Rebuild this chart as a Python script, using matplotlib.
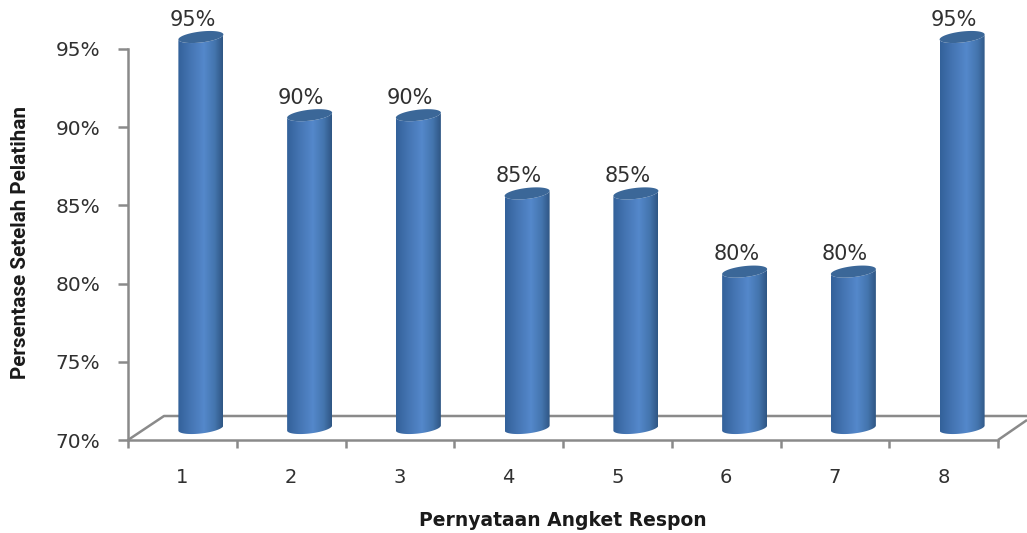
import numpy as np
import matplotlib
matplotlib.use("Agg")
import matplotlib.pyplot as plt
from matplotlib.patches import Polygon
from matplotlib.colors import LinearSegmentedColormap
from matplotlib.ticker import FuncFormatter

categories = [1, 2, 3, 4, 5, 6, 7, 8]
values = [95, 90, 90, 85, 85, 80, 80, 95]
y_ticks = [70, 75, 80, 85, 90, 95]
x_title = "Pernyataan Angket Respon"
y_title = "Persentase Setelah Pelatihan"

W, H = 1027, 533
AX_L, AX_R, AX_T, AX_B = 128, 998, 49, 440
GREY = "#8a8a8a"
TEXT = "#303030"
FONT = ["DejaVu Sans"]

fig = plt.figure(figsize=(W / 100, H / 100), dpi=100, facecolor="white")
ax = fig.add_axes([AX_L / W, 1 - AX_B / H, (AX_R - AX_L) / W, (AX_B - AX_T) / H])
ax.set_facecolor("none")

ax.set_xlim(0.5, 8.5)
ax.set_ylim(70, 95)
px_x = (AX_R - AX_L) / 8
px_y = (AX_B - AX_T) / 25

# Depth of the pseudo-3D floor, in data units
depth_x, depth_y = 36 / px_x, 24 / px_y
dx, dy = 18.5 / px_x, 12 / px_y

# Floor outline
ax.plot([0.5, 0.5 + depth_x, 8.5 + 29 / px_x], [70, 70 + depth_y, 70 + depth_y],
        color=GREY, lw=1.8, clip_on=False, zorder=1, solid_capstyle="butt")
ax.plot([8.5, 8.5 + 29 / px_x], [70, 70 + 20 / px_y],
        color=GREY, lw=1.8, clip_on=False, zorder=1, solid_capstyle="butt")

# Cylinders: horizontal gradient body clipped to the outline, darker top cap
shade = LinearSegmentedColormap.from_list(
    "cyl", [(0, "#33619a"), (0.28, "#4575b3"), (0.58, "#5488cb"),
            (0.82, "#4475ae"), (1, "#2f5684")])
gradient = np.linspace(0, 1, 128)[None, :]
half_w = 22.5 / px_x
ry = 5.5 / px_y
tilt = 2.5 / px_y
t = np.linspace(0, 2 * np.pi, 121)


def ellipse(cx, cy, tt):
    return cx + half_w * np.cos(tt), cy + ry * np.sin(tt) + tilt * np.cos(tt)


for c, v in zip(categories, values):
    cx = c + dx
    base, top = 70 + dy, v + dy
    low = np.linspace(np.pi, 2 * np.pi, 61)
    xb, yb = ellipse(cx, base, low)
    xt, yt = ellipse(cx, top, low[::-1])
    outline = Polygon(np.column_stack([np.r_[xb, xt], np.r_[yb, yt]]),
                      closed=True, transform=ax.transData, fc="none", ec="none")
    ax.add_patch(outline)
    im = ax.imshow(gradient, cmap=shade, aspect="auto", zorder=2,
                   extent=(cx - half_w, cx + half_w, 69, v + 2))
    im.set_clip_path(outline)
    im.set_clip_box(fig.bbox)
    xc, yc = ellipse(cx, top, t)
    ax.fill(xc, yc, color="#3b6798", zorder=3, clip_on=False, lw=0)
    ax.annotate(f"{v}%", (cx, top), xytext=(-6, 12.5), textcoords="offset points",
                ha="center", va="center", fontsize=15, color=TEXT, family=FONT,
                annotation_clip=False, zorder=4)

ax.set_xlim(0.5, 8.5)
ax.set_ylim(70, 95)

# Axes and ticks
for side in ("top", "right"):
    ax.spines[side].set_visible(False)
for side in ("left", "bottom"):
    ax.spines[side].set_color(GREY)
    ax.spines[side].set_linewidth(1.8)
    ax.spines[side].set_zorder(5)

ax.set_yticks(y_ticks)
ax.yaxis.set_major_formatter(FuncFormatter(lambda val, _: f"{val:.0f}%"))
ax.set_xticks(categories)
ax.set_xticks(np.arange(0.5, 9), minor=True)
ax.tick_params(axis="y", length=7.5, width=1.8, color=GREY, labelsize=14.5,
               labelcolor=TEXT, pad=12.5)
ax.tick_params(axis="x", which="major", length=0, labelsize=14, labelcolor=TEXT, pad=20)
ax.tick_params(axis="x", which="minor", length=6, width=1.8, color=GREY)
for lab in ax.get_xticklabels() + ax.get_yticklabels():
    lab.set_family(FONT)

ax.set_xlabel(x_title, fontsize=13.5, fontweight="bold", color="#1a1a1a", family=FONT, va="center")
ax.xaxis.set_label_coords((563 - AX_L) / (AX_R - AX_L), (AX_B - 521) / (AX_B - AX_T))
ax.set_ylabel(y_title, fontsize=14.9, fontweight="bold", color="#1a1a1a",
              family=["Roboto", "DejaVu Sans"], va="center")
ax.yaxis.set_label_coords((21 - AX_L) / (AX_R - AX_L), (AX_B - 243) / (AX_B - AX_T))

fig.savefig("out.png", dpi=100)
